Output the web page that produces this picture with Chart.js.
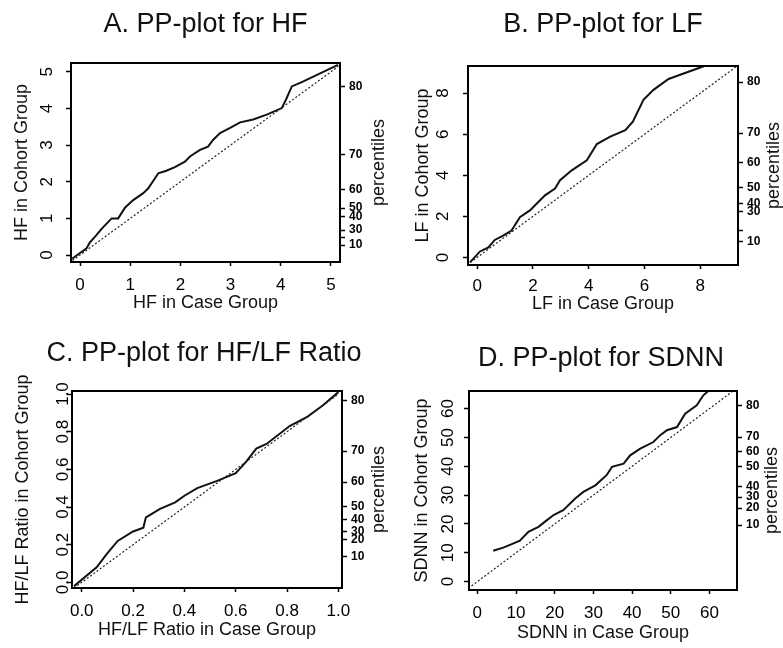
<!DOCTYPE html>
<html>
<head>
<meta charset="utf-8">
<script src="https://cdn.jsdelivr.net/npm/chart.js@4.4.1/dist/chart.umd.min.js"></script>
<style>
  body { margin: 0; background: #fff; }
  #wrap { position: relative; width: 783px; height: 648px; }
  canvas { position: absolute; }
</style>
</head>
<body>
<div id="wrap">
  <canvas id="hf" width="390" height="320" style="left:0;top:0"></canvas>
  <canvas id="lf" width="393" height="320" style="left:390px;top:0"></canvas>
  <canvas id="ratio" width="390" height="328" style="left:0;top:320px"></canvas>
  <canvas id="sdnn" width="393" height="328" style="left:390px;top:320px"></canvas>
</div>
<script>
// PP-plot curves (case group on x, cohort group on y)
const hfCase = [-0.16, 0.13, 0.19, 0.33, 0.42, 0.63, 0.76, 0.90, 1.06, 1.26, 1.36, 1.56, 1.72, 1.89, 2.09, 2.19, 2.39, 2.55, 2.65, 2.79, 2.99, 3.19, 3.45, 3.72, 4.02, 4.10, 4.22, 4.44, 5.14];
const hfCohort = [-0.10, 0.18, 0.33, 0.55, 0.70, 1.00, 1.00, 1.30, 1.50, 1.69, 1.82, 2.23, 2.30, 2.40, 2.55, 2.69, 2.87, 2.96, 3.14, 3.33, 3.47, 3.62, 3.70, 3.83, 4.01, 4.23, 4.60, 4.73, 5.19];

const lfCase = [-0.26, 0.10, 0.40, 0.63, 0.93, 1.23, 1.53, 1.89, 2.13, 2.43, 2.79, 2.97, 3.39, 3.93, 4.29, 4.77, 5.31, 5.58, 5.96, 6.32, 6.86, 8.12];
const lfCohort = [-0.24, 0.29, 0.49, 0.85, 1.06, 1.31, 1.96, 2.29, 2.61, 3.02, 3.35, 3.76, 4.24, 4.73, 5.52, 5.88, 6.20, 6.61, 7.67, 8.16, 8.69, 9.31];

const ratioCase = [-0.03, 0.058, 0.097, 0.14, 0.20, 0.24, 0.25, 0.305, 0.364, 0.40, 0.45, 0.53, 0.60, 0.64, 0.68, 0.72, 0.81, 0.88, 0.94, 1.00];
const ratioCohort = [-0.02, 0.08, 0.15, 0.22, 0.27, 0.29, 0.345, 0.39, 0.425, 0.46, 0.50, 0.54, 0.58, 0.64, 0.71, 0.735, 0.83, 0.88, 0.94, 1.01];

const sdnnCase = [4.1, 6.7, 8.9, 11.0, 13.2, 15.8, 17.5, 19.7, 22.2, 25.3, 27.4, 30.5, 33.4, 34.8, 37.8, 39.5, 42.1, 45.5, 47.2, 49.0, 51.6, 53.7, 56.7, 58.4, 59.7];
const sdnnCohort = [10.7, 11.8, 13.0, 14.2, 17.3, 19.0, 20.8, 23.1, 24.8, 28.8, 31.1, 33.4, 36.9, 39.8, 40.9, 43.8, 46.1, 48.4, 50.7, 52.5, 53.6, 58.2, 61.1, 64.6, 66.1];

// reference line y = x (end points)
const hfDiag = [-0.15, 5.15];
const lfDiag = [-0.25, 9.3];
const ratioDiag = [-0.03, 1.0];
const sdnnDiag = [-1.5, 66.0];

// tick labels
const hfTicks = [0, 1, 2, 3, 4, 5];
const lfTicks = [0, 2, 4, 6, 8];
const ratioTicks = [0, 0.2, 0.4, 0.6, 0.8, 1.0];
const sdnnTicks = [0, 10, 20, 30, 40, 50, 60];

// percentile ticks on the right axis (cohort value where each percentile sits)
const hfPctAt = [0.27, 0.47, 0.68, 1.04, 1.28, 1.78, 2.73, 4.59];
const hfPctLabels = ['10', '', '30', '40', '50', '60', '70', '80'];
const lfPctAt = [0.78, 1.32, 2.24, 2.63, 3.41, 4.63, 6.05, 8.54];
const lfPctLabels = ['10', '', '30', '40', '50', '60', '70', '80'];
const ratioPctAt = [0.138, 0.229, 0.271, 0.335, 0.404, 0.532, 0.697, 0.963];
const ratioPctLabels = ['10', '20', '30', '40', '50', '60', '70', '80'];
const sdnnPctAt = [19.6, 25.5, 29.3, 32.9, 39.8, 45.0, 50.1, 61.1];
const sdnnPctLabels = ['10', '20', '30', '40', '50', '60', '70', '80'];

const FONT = 'Liberation Sans, Arial, Helvetica, sans-serif';

function toPoints(xs, ys) {
    return xs.map((x, i) => ({ x: x, y: ys[i] }));
}

// frame, panel title and the rotated "percentiles" label on the right
const framePlugin = {
    id: 'frame',
    afterDraw(chart, args, opts) {
        const a = chart.chartArea;
        const ctx = chart.ctx;
        ctx.save();
        ctx.strokeStyle = '#000';
        ctx.lineWidth = 2;
        ctx.strokeRect(a.left, a.top, a.right - a.left, a.bottom - a.top);
        ctx.fillStyle = '#111';
        ctx.textAlign = 'center';
        ctx.textBaseline = 'middle';
        ctx.font = '27px ' + FONT;
        ctx.fillText(opts.title, (a.left + a.right) / 2 + opts.titleDx, opts.titleY);
        ctx.translate(opts.x, (a.top + a.bottom) / 2);
        ctx.rotate(-Math.PI / 2);
        ctx.font = '18px ' + FONT;
        ctx.fillText('percentiles', 0, 0);
        ctx.restore();
    }
};

function makePanel(p) {
    const fixed = (v) => p.decimals ? v.toFixed(p.decimals) : String(v);
    new Chart(document.getElementById(p.id), {
        type: 'scatter',
        data: {
            datasets: [{
                data: toPoints(p.diag, p.diag),
                showLine: true,
                borderColor: '#222',
                borderWidth: 1.2,
                borderDash: [2, 2],
                pointRadius: 0
            }, {
                data: toPoints(p.xs, p.ys),
                showLine: true,
                borderColor: '#111',
                borderWidth: 2,
                pointRadius: 0
            }]
        },
        options: {
            responsive: false,
            animation: false,
            layout: { padding: { top: p.area.top } },
            plugins: {
                legend: { display: false },
                tooltip: { enabled: false },
                frame: { x: p.pctX, title: p.title, titleY: p.titleY, titleDx: p.titleDx }
            },
            scales: {
                x: {
                    type: 'linear',
                    position: 'bottom',
                    min: p.xRange[0],
                    max: p.xRange[1],
                    afterBuildTicks: (s) => { s.ticks = p.ticks.map(v => ({ value: v })); },
                    afterFit: (s) => { s.height = p.h - p.area.bottom; },
                    grid: { drawOnChartArea: false, tickLength: 4, tickColor: '#000', tickWidth: 1.5 },
                    border: { display: false },
                    ticks: {
                        color: '#000',
                        padding: p.xTickPad + 1,
                        font: { family: FONT, size: 17 },
                        maxRotation: 0,
                        autoSkip: false,
                        callback: (v) => fixed(v)
                    },
                    title: {
                        display: true,
                        text: p.xTitle,
                        color: '#111',
                        font: { family: FONT, size: 18 },
                        padding: { top: 0, bottom: p.xTitlePad }
                    }
                },
                y: {
                    type: 'linear',
                    position: 'left',
                    min: p.yRange[0],
                    max: p.yRange[1],
                    afterBuildTicks: (s) => { s.ticks = p.ticks.map(v => ({ value: v })); },
                    afterFit: (s) => { s.width = p.area.left; },
                    grid: { drawOnChartArea: false, tickLength: 5, tickColor: '#000', tickWidth: 1.5 },
                    border: { display: false },
                    ticks: {
                        color: '#000',
                        padding: p.yTickPad,
                        minRotation: 90,
                        maxRotation: 90,
                        crossAlign: 'center',
                        font: { family: FONT, size: 17 },
                        autoSkip: false,
                        callback: (v) => fixed(v)
                    },
                    title: {
                        display: true,
                        text: p.yTitle,
                        color: '#111',
                        font: { family: FONT, size: 18 },
                        padding: { top: p.yTitlePad, bottom: 0 }
                    }
                },
                pct: {
                    type: 'linear',
                    position: 'right',
                    min: p.yRange[0],
                    max: p.yRange[1],
                    afterBuildTicks: (s) => { s.ticks = p.pctAt.map(v => ({ value: v })); },
                    afterFit: (s) => { s.width = p.w - p.area.right; },
                    grid: { drawOnChartArea: false, tickLength: 5, tickColor: '#000', tickWidth: 1.5 },
                    border: { display: false },
                    ticks: {
                        color: '#000',
                        padding: 4,
                        font: { family: FONT, size: 12, weight: 'bold' },
                        autoSkip: false,
                        callback: (v, i) => p.pctLabels[i]
                    }
                }
            }
        },
        plugins: [framePlugin]
    });
}

makePanel({
    id: 'hf', w: 390, h: 320,
    area: { left: 71, right: 340, top: 63, bottom: 262 },
    title: 'A. PP-plot for HF', titleY: 25, titleDx: 0,
    xTitle: 'HF in Case Group', yTitle: 'HF in Cohort Group',
    xs: hfCase, ys: hfCohort, diag: hfDiag, ticks: hfTicks,
    pctAt: hfPctAt, pctLabels: hfPctLabels,
    xRange: [-0.18, 5.18], yRange: [-0.19, 5.24],
    xTickPad: 7.8, xTitlePad: 6.5, yTickPad: 14.3, yTitlePad: 11.7, pctX: 379
});

makePanel({
    id: 'lf', w: 393, h: 320,
    area: { left: 78, right: 348, top: 66, bottom: 265 },
    title: 'B. PP-plot for LF', titleY: 25, titleDx: 0,
    xTitle: 'LF in Case Group', yTitle: 'LF in Cohort Group',
    xs: lfCase, ys: lfCohort, diag: lfDiag, ticks: lfTicks,
    pctAt: lfPctAt, pctLabels: lfPctLabels,
    xRange: [-0.33, 9.35], yRange: [-0.37, 9.32],
    xTickPad: 6.5, xTitlePad: 5.2, yTickPad: 15, yTitlePad: 22.5, pctX: 384
});

makePanel({
    id: 'ratio', w: 390, h: 328,
    area: { left: 72, right: 342, top: 71, bottom: 268 },
    title: 'C. PP-plot for HF/LF Ratio', titleY: 34, titleDx: -3,
    xTitle: 'HF/LF Ratio in Case Group', yTitle: 'HF/LF Ratio in Cohort Group',
    xs: ratioCase, ys: ratioCohort, diag: ratioDiag, ticks: ratioTicks, decimals: 1,
    pctAt: ratioPctAt, pctLabels: ratioPctLabels,
    xRange: [-0.038, 1.014], yRange: [-0.03, 1.016],
    xTickPad: 8.5, xTitlePad: 7.2, yTickPad: -8.1, yTitlePad: 12.5, pctX: 379
});

makePanel({
    id: 'sdnn', w: 393, h: 328,
    area: { left: 79, right: 347, top: 71, bottom: 270 },
    title: 'D. PP-plot for SDNN', titleY: 39, titleDx: -2,
    xTitle: 'SDNN in Case Group', yTitle: 'SDNN in Cohort Group',
    xs: sdnnCase, ys: sdnnCohort, diag: sdnnDiag, ticks: sdnnTicks,
    pctAt: sdnnPctAt, pctLabels: sdnnPctLabels,
    xRange: [-2.15, 67.1], yRange: [-2.9, 66.1],
    xTickPad: 8.1, xTitlePad: 3.7, yTickPad: 6.25, yTitlePad: 21.7, pctX: 382
});
</script>
</body>
</html>
